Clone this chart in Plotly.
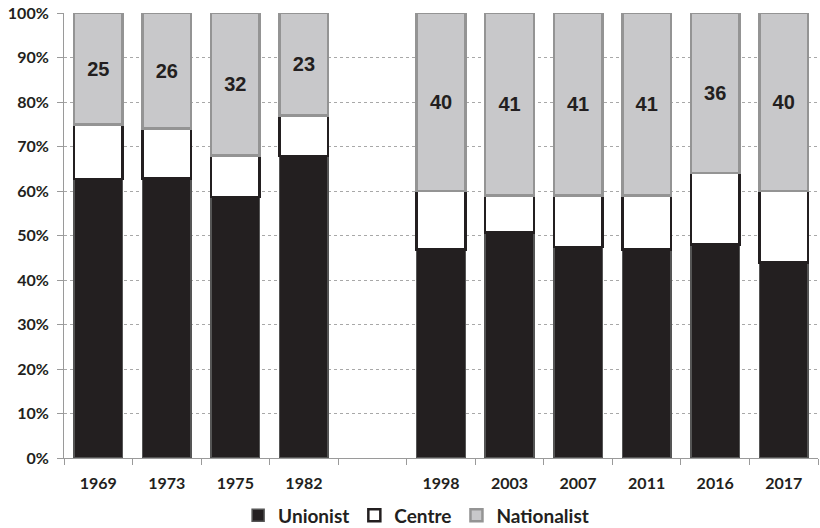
import plotly.graph_objects as go

# Election years; the blank slot separates the two periods
years = ["1969", "1973", "1975", "1982", " ", "1998", "2003", "2007", "2011", "2016", "2017"]

# Vote shares (%) by bloc
unionist = [62.7, 62.8, 58.7, 67.9, None, 46.9, 50.7, 47.4, 46.9, 48.0, 43.9]
centre = [12.3, 11.2, 9.3, 9.1, None, 13.1, 8.3, 11.6, 12.1, 16.0, 16.1]
nationalist = [25, 26, 32, 23, None, 40, 41, 41, 41, 36, 40]

y_ticks = [0, 10, 20, 30, 40, 50, 60, 70, 80, 90, 100]
y_tick_text = [f"{v}%" for v in y_ticks]

DARK = "#231f20"
GREY = "#c8c8ca"
GREY_EDGE = "#949494"
TICK_FONT = dict(family="Lato", size=16, color=DARK, weight="bold")

fig = go.Figure()
fig.add_trace(go.Bar(
    name="Unionist", x=years, y=unionist,
    marker=dict(color=DARK, line=dict(color="#555555", width=1.5)),
    hoverinfo="skip",
))
fig.add_trace(go.Bar(
    name="Centre", x=years, y=centre,
    marker=dict(color="white", line=dict(color=DARK, width=2.5)),
    hoverinfo="skip",
))
fig.add_trace(go.Bar(
    name="Nationalist", x=years, y=nationalist,
    marker=dict(color=GREY, line=dict(color=GREY_EDGE, width=2.5)),
    text=[str(v) if v is not None else "" for v in nationalist],
    textposition="inside", insidetextanchor="middle",
    textfont=dict(family="Liberation Sans", size=20, color=DARK, weight="bold"),
    textangle=0,
    hoverinfo="skip",
))

fig.update_layout(
    barmode="stack",
    bargap=0.29,
    width=820, height=528,
    margin=dict(l=64, r=2, t=13, b=70, autoexpand=False),
    paper_bgcolor="white", plot_bgcolor="white",
    showlegend=True,
    legend=dict(
        orientation="h", x=0.467, xanchor="center",
        yref="container", y=0.024, yanchor="middle",
        font=dict(family="Lato", size=19, color=DARK, weight="bold"),
        itemwidth=30, traceorder="normal", tracegroupgap=0,
    ),
    uniformtext=dict(mode=False),
)

fig.update_xaxes(
    type="category", categoryorder="array", categoryarray=years,
    showgrid=False, showline=True, linecolor="#9a9a9a", linewidth=1,
    ticks="outside", tickson="boundaries", ticklen=6, tickcolor="#9a9a9a",
    tickfont=TICK_FONT, ticklabelstandoff=11,
    range=[-0.5, len(years) - 0.5],
)
fig.update_yaxes(
    range=[0, 100], tickvals=y_ticks, ticktext=y_tick_text,
    showgrid=True, gridcolor="#a8a8a8", griddash="dot", gridwidth=1,
    showline=True, linecolor="#9a9a9a", linewidth=1,
    ticks="outside", ticklen=6, tickcolor="#9a9a9a",
    tickfont=TICK_FONT, ticklabelstandoff=5,
    zeroline=False,
)

fig.write_html("out.html")
